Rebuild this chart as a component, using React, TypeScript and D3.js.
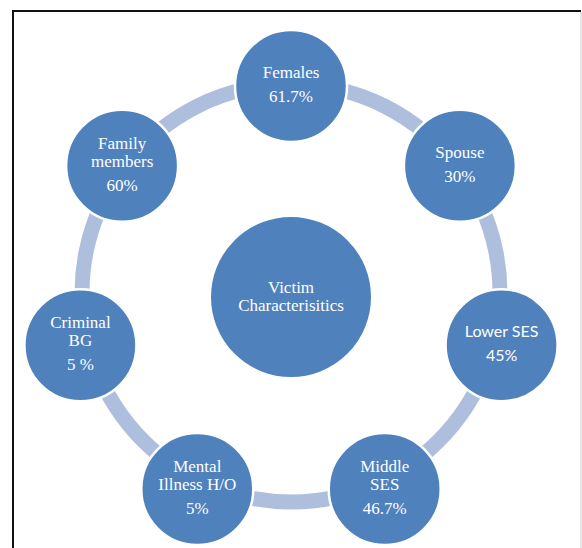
import { useEffect, useRef } from 'react';
import * as d3 from 'd3';

// node labels, clockwise from the top
const nodeNames: string[][] = [
  ['Females'],
  ['Spouse'],
  ['Lower SES'],
  ['Middle', 'SES'],
  ['Mental', 'Illness H/O'],
  ['Criminal', 'BG'],
  ['Family', 'members'],
];
const nodeValues = ['61.7%', '30%', '45%', '46.7%', '5%', '5 %', '60%'];
const centerLabel = ['Victim', 'Characterisitics'];
const sansNodes = ['Lower SES'];

const W = 582;
const H = 548;

export default function App() {
  const svgRef = useRef<SVGSVGElement>(null);

  useEffect(() => {
    if (!svgRef.current) return;
    const svg = d3.select(svgRef.current);
    svg.selectAll('*').remove();

    const n = nodeNames.length;
    const cx = 291;
    const cy = 298;
    const rx = 216;
    const ry = 212;
    const nodeR = 56;
    const hubR = 81;

    // angle scale, d3 convention (0 = 12 o'clock, clockwise)
    const angle = d3.scaleLinear().domain([0, n]).range([0, 2 * Math.PI]);
    const nodes = nodeNames.map((name, i) => ({
      name,
      value: nodeValues[i],
      x: cx + rx * Math.sin(angle(i)),
      y: cy - ry * Math.cos(angle(i)),
    }));

    // frame
    svg.append('path')
      .attr('d', `M13,${H} L13,11 L581,11`)
      .attr('fill', 'none')
      .attr('stroke', '#111')
      .attr('stroke-width', 2);
    svg.append('line')
      .attr('x1', 581).attr('x2', 581)
      .attr('y1', 12).attr('y2', H)
      .attr('stroke', '#cfcfcf')
      .attr('stroke-width', 1);

    // connecting ring segments
    const acx = 291;
    const acy = 293;
    const ringR = 209;
    const arc = d3.arc<{ a0: number; a1: number }>()
      .innerRadius(ringR - 7.5)
      .outerRadius(ringR + 7.5)
      .startAngle(d => d.a0)
      .endAngle(d => d.a1);
    const nodeAngle = (p: { x: number; y: number }) => {
      const a = Math.atan2(p.x - acx, -(p.y - acy));
      return a < 0 ? a + 2 * Math.PI : a;
    };
    const segs = nodes.map((p, i) => {
      const a0 = nodeAngle(p);
      let a1 = nodeAngle(nodes[(i + 1) % n]);
      if (a1 <= a0) a1 += 2 * Math.PI;
      return { a0, a1 };
    });
    svg.append('g')
      .attr('transform', `translate(${acx},${acy})`)
      .selectAll('path')
      .data(segs)
      .enter()
      .append('path')
      .attr('d', d => arc(d) as string)
      .attr('fill', '#AEBFDD');

    // hub
    svg.append('circle')
      .attr('cx', cx).attr('cy', 297).attr('r', hubR)
      .attr('fill', '#4F81BD')
      .attr('stroke', '#fff')
      .attr('stroke-width', 2);
    svg.append('text')
      .attr('x', cx)
      .attr('y', 293)
      .attr('text-anchor', 'middle')
      .attr('fill', '#fff')
      .style('font-family', '"Liberation Serif", "Times New Roman", serif')
      .style('font-size', '17px')
      .selectAll('tspan')
      .data(centerLabel)
      .enter()
      .append('tspan')
      .attr('x', cx)
      .attr('dy', (d, i) => (i === 0 ? 0 : 17.5))
      .text(d => d);

    // outer nodes
    const g = svg.append('g')
      .selectAll('g')
      .data(nodes)
      .enter()
      .append('g')
      .attr('transform', d => `translate(${d.x},${d.y})`);

    g.append('circle')
      .attr('r', nodeR)
      .attr('fill', '#4F81BD')
      .attr('stroke', '#fff')
      .attr('stroke-width', 2.5);

    g.each(function (d) {
      const lines = [...d.name, d.value];
      const span = (d.name.length - 1) * 17.5 + 24;
      const top = 4 - span / 2;
      const sans = sansNodes.includes(d.name.join(' '));
      const t = d3.select(this).append('text')
        .attr('text-anchor', 'middle')
        .attr('fill', '#fff')
        .style('font-family', sans ? 'Lato, "Open Sans", sans-serif' : '"Liberation Serif", "Times New Roman", serif')
        .style('font-size', sans ? '16px' : '17px');
      lines.forEach((line, i) => {
        const y = i < d.name.length ? top + i * 17.5 : top + (d.name.length - 1) * 17.5 + 24;
        t.append('tspan').attr('x', 0).attr('y', y).text(line);
      });
    });
  }, []);

  return (
    <svg
      ref={svgRef}
      width={W}
      height={H}
      style={{ position: 'absolute', left: 0, top: 0, background: '#fff' }}
    />
  );
}
